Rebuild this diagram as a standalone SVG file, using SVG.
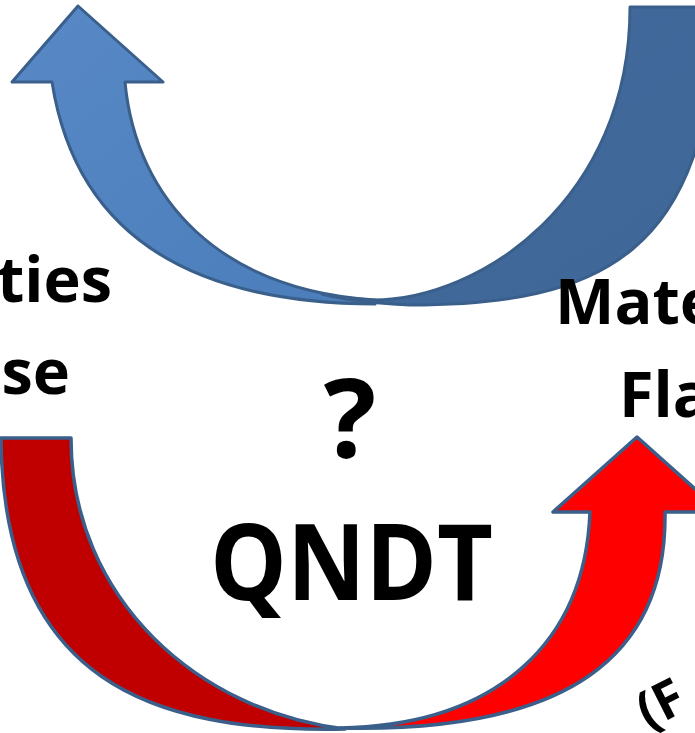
<svg xmlns="http://www.w3.org/2000/svg" width="695" height="733" viewBox="0 0 695 733">
<defs>
<linearGradient id="gBlueL" x1="0" y1="0" x2="1" y2="1">
<stop offset="0" stop-color="#5889C6"/>
<stop offset="1" stop-color="#4A7DBA"/>
</linearGradient>
<linearGradient id="gBlueR" x1="0" y1="0" x2="1" y2="1">
<stop offset="0" stop-color="#416A9C"/>
<stop offset="1" stop-color="#3F6798"/>
</linearGradient>
</defs>
<style>
.arrow{stroke:#3A5F8B;stroke-width:3;stroke-linejoin:round}
.red{stroke-width:3.5}
.lbl{font-family:"Open Sans","Liberation Sans",sans-serif;font-weight:bold;fill:#000}
</style>
<rect width="695" height="733" fill="#fff"/>
<g id="connectors">
<g id="blue-arrow">
<path class="arrow" fill="url(#gBlueL)" d="M125,82 C136,200 220,290 375,300 L375,304 C160,303 72,210 52,82 L12,82 L78,6 L163,82 Z"/>
<path class="arrow" fill="url(#gBlueR)" d="M630,7 C630,200 480,300 373,300 C350,299 335,297 322,294 C345,300 370,303 410,305 C600,305 712,255 715,7 Z"/>
</g>
<g id="red-arrow">
<path class="arrow red" fill="#FF0000" d="M590,512 C585,640 500,725 340,728 C570,733 667,655 665,512 L721,512 L637,437 L553,512 Z"/>
<path class="arrow red" fill="#C00000" d="M1,438 L71,438 C71,600 200,712 345,729 C150,733 3,680 1,438 Z"/>
</g>
</g>
<g id="node-properties"><text class="lbl" x="112" y="302" font-size="63" text-anchor="end">rties</text></g>
<g id="node-false"><text class="lbl" x="70" y="394" font-size="63" text-anchor="end">lse</text></g>
<g id="node-material"><text class="lbl" x="555" y="324" font-size="63">Mate</text></g>
<g id="node-flaws"><text class="lbl" x="619" y="417" font-size="63">Fla</text></g>
<g id="node-question"><text class="lbl" x="350" y="458" font-size="110" text-anchor="middle">?</text></g>
<g id="node-qndt"><text class="lbl" x="210" y="600" font-size="105" textLength="283" lengthAdjust="spacingAndGlyphs">QNDT</text></g>
<g id="node-from"><text class="lbl" font-size="52" transform="translate(648,730) rotate(-27)">(F</text></g>
</svg>
